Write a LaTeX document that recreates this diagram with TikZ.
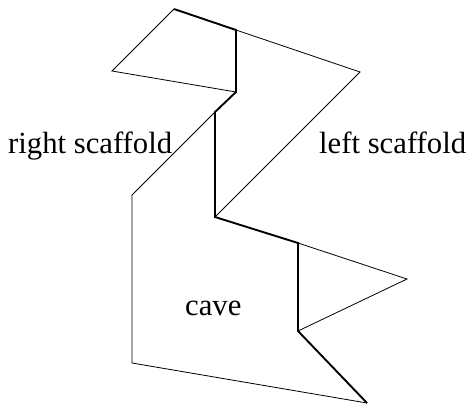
\documentclass[tikz,border=0pt]{standalone}
\usepackage{fontspec}
\setmainfont{Liberation Serif}
\begin{document}
\begin{tikzpicture}[x=1pt,y=-1pt,
  thinline/.style={line width=0.8pt,line join=miter},
  thickline/.style={line width=1.9pt,line join=miter},
  lbl/.style={anchor=base west,inner sep=0pt,font=\fontsize{30.7}{32}\selectfont}]
\useasboundingbox (0,0) rectangle (471,407);
\coordinate (A) at (174,9);
\coordinate (B) at (236,30);
\coordinate (C) at (236,92);
\coordinate (L1) at (112,71);
\coordinate (D) at (215,112);
\coordinate (R1) at (360,72);
\coordinate (E) at (215,217);
\coordinate (F) at (298,243);
\coordinate (R2) at (407,279);
\coordinate (G) at (298,331);
\coordinate (H) at (367,403);
\coordinate (S1) at (132,195);
\coordinate (S2) at (132,363);
\draw[thinline] (A) -- (L1) -- (C);
\draw[thinline] (B) -- (R1) -- (E);
\draw[thinline] (F) -- (R2) -- (G);
\draw[thinline] (D) -- (S1) -- (S2) -- (H);
\draw[thickline] (A) -- (B) -- (C) -- (D) -- (E) -- (F) -- (G) -- (H);
\node[lbl] (rs) at (8,153) {right scaffold};
\node[lbl] (ls) at (319,153) {left scaffold};
\node[lbl] (cv) at (185,315) {cave};
\end{tikzpicture}
\end{document}
